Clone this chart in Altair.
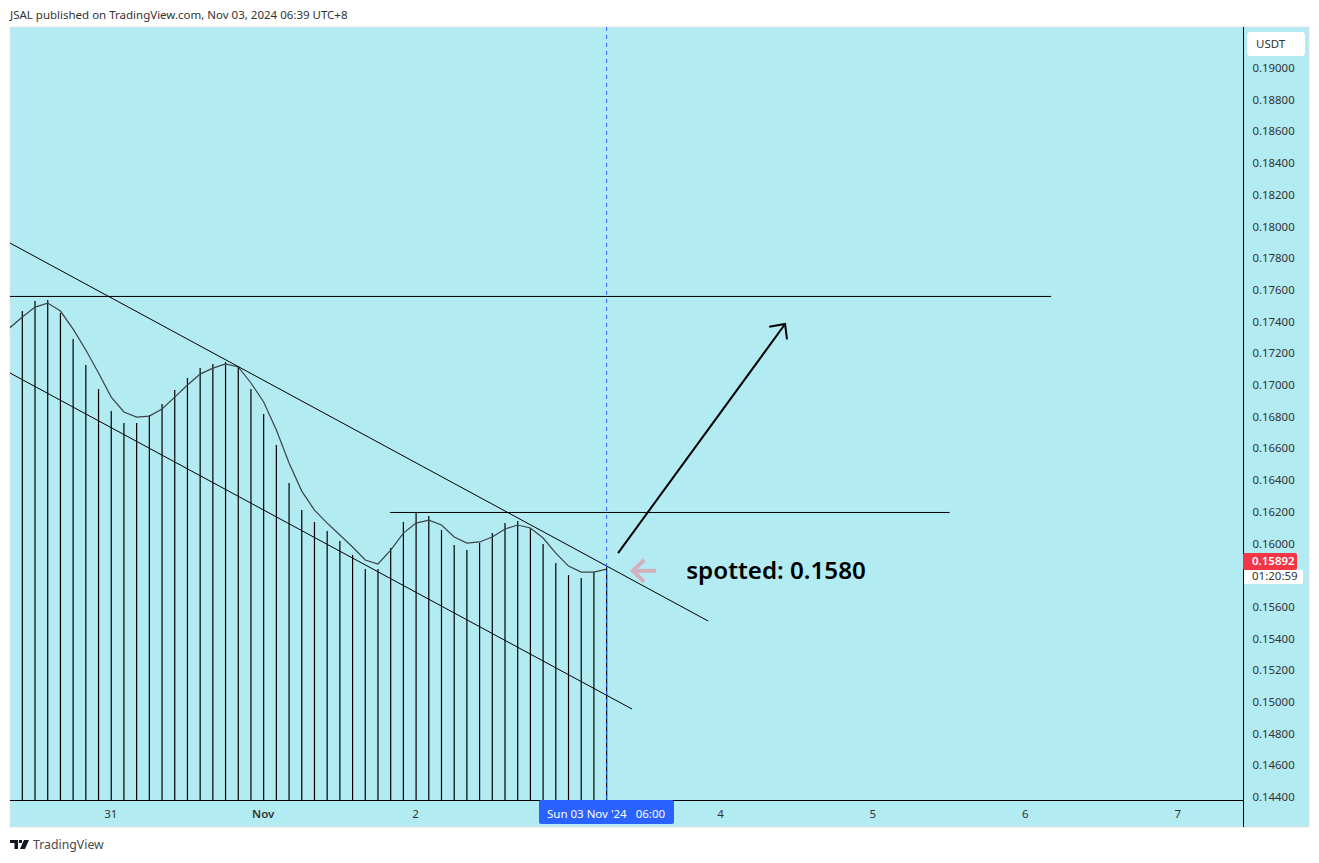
import altair as alt
import pandas as pd

# 2h bars, index 0 = first visible bar, 12 bars per day
highs = [0.17467, 0.17530, 0.17536, 0.17454, 0.17290, 0.17126, 0.16975, 0.16836, 0.16760, 0.16760,
         0.16811, 0.16880, 0.16969, 0.17044, 0.17107, 0.17133, 0.17145, 0.17120, 0.16975, 0.16817,
         0.16622, 0.16382, 0.16211, 0.16136, 0.16079, 0.16016, 0.15928, 0.15839, 0.15839, 0.15972,
         0.16136, 0.16199, 0.16174, 0.16085, 0.15991, 0.15959, 0.16003, 0.16066, 0.16129, 0.16142,
         0.16098, 0.15997, 0.15877, 0.15801, 0.15782, 0.15820, 0.15858]

# smooth line starts one bar earlier, at the left edge
smooth = [0.17360, 0.17429, 0.17492, 0.17517, 0.17467, 0.17353, 0.17221, 0.17076, 0.16924, 0.16830,
          0.16798, 0.16804, 0.16849, 0.16924, 0.17000, 0.17069, 0.17107, 0.17133, 0.17114, 0.17013,
          0.16893, 0.16716, 0.16508, 0.16331, 0.16211, 0.16129, 0.16054, 0.15978, 0.15896, 0.15871,
          0.15959, 0.16066, 0.16129, 0.16148, 0.16117, 0.16041, 0.16003, 0.16010, 0.16041, 0.16092,
          0.16117, 0.16098, 0.16035, 0.15940, 0.15858, 0.15820, 0.15820, 0.15839]

y_ticks = [0.190, 0.188, 0.186, 0.184, 0.182, 0.180, 0.178, 0.176, 0.174, 0.172, 0.170, 0.168,
           0.166, 0.164, 0.162, 0.160, 0.156, 0.154, 0.152, 0.150, 0.148, 0.146, 0.144]
x_ticks = [7, 19, 31, 55, 67, 79, 91]
x_tick_labels = ["31", "Nov", "2", "4", "5", "6", "7"]

# drawings: (idx, price) end points
upper_trend = ([-0.97, 54.0], [0.17896, 0.15511])
lower_trend = ([-0.97, 48.0], [0.17076, 0.14956])
level_top = ([-0.97, 81.0], [0.17559, 0.17559])
level_mid = ([28.95, 73.0], [0.16196, 0.16196])
arrow_shaft = ([46.9, 60.05], [0.15940, 0.17385])
arrow_head = ([58.8, 60.05, 60.2], [0.17368, 0.17385, 0.17288])
pink_shaft = ([48.06, 49.9], [0.15828, 0.15828])
pink_head = ([48.95, 48.06, 48.95], [0.15896, 0.15828, 0.15759])

last_bar = 46
note_x, note_y = 52.26, 0.15828

BG = "#b2ebf2"
BLUE = "#2962ff"
FONT = "Noto Sans"

x_enc = alt.X("idx:Q", title=None,
              scale=alt.Scale(domain=[-0.97, 96.1], nice=False, zero=False),
              axis=alt.Axis(values=x_ticks, domain=False, ticks=False, grid=False, zindex=1,
                            labelExpr="{" + ",".join(f"'{k}':'{v}'" for k, v in zip(x_ticks, x_tick_labels)) + "}[datum.value]",
                            labelFont=FONT, labelFontSize=11.5, labelColor="#333333", labelPadding=8,
                            labelOffset=-1,
                            labelFontWeight={"condition": {"test": "datum.value == 19", "value": 600}, "value": 400}))
y_enc = alt.Y("price:Q", title=None,
              scale=alt.Scale(domain=[0.14382, 0.19259], nice=False, zero=False),
              axis=alt.Axis(orient="right", values=y_ticks, format=".5f", domain=False, ticks=False,
                            grid=False, zindex=1, labelFont=FONT, labelFontSize=11.4,
                            labelColor="#333333", labelPadding=9, labelOffset=0.5))

one = pd.DataFrame({"a": [0]})


def seg(points, name):
    return pd.DataFrame({"idx": points[0], "price": points[1], "name": name})


def box(x0, y0, x1, y1, color, **kw):
    # page pixels -> plot pixels
    return alt.Chart(one).mark_rect(color=color, **kw).encode(
        x=alt.value(x0 - 10), x2=alt.value(x1 - 10), y=alt.value(y0 - 27), y2=alt.value(y1 - 27))


def label(s, x, y, size=11.5, color="#333333", align="left", **kw):
    return alt.Chart(one).mark_text(text=s, font=FONT, fontSize=size, color=color, align=align,
                                    baseline="middle", **kw).encode(
        x=alt.value(x - 10), y=alt.value(y - 27))


panel = box(10, 27, 1309, 827, BG, stroke="#e0e3eb", strokeWidth=1)

bars_df = pd.DataFrame({"idx": range(len(highs)), "price": highs})
bars = alt.Chart(bars_df).mark_rule(color="#000000", strokeWidth=1.2).encode(
    x=x_enc, y=y_enc, y2=alt.value(773))

line_df = pd.DataFrame({"idx": range(-1, len(smooth) - 1), "price": smooth})
line = alt.Chart(line_df).mark_line(color="#3a4446", strokeWidth=1.2, clip=True).encode(x=x_enc, y=y_enc)

thin_df = pd.concat([seg(upper_trend, "u"), seg(lower_trend, "l"), seg(level_top, "t"), seg(level_mid, "m")])
thin = alt.Chart(thin_df).mark_line(color="#000000", strokeWidth=1, clip=True).encode(
    x=x_enc, y=y_enc, detail="name:N")

arrow_df = pd.concat([seg(arrow_shaft, "s"), seg(arrow_head, "h")])
arrow = alt.Chart(arrow_df).mark_line(color="#000000", strokeWidth=2).encode(
    x=x_enc, y=y_enc, detail="name:N", order="rn:Q").transform_window(rn="row_number()", groupby=["name"])

pink_df = pd.concat([seg(pink_shaft, "s"), seg(pink_head, "h")])
pink = alt.Chart(pink_df).mark_line(color="#d4b0bc", strokeWidth=4).encode(
    x=x_enc, y=y_enc, detail="name:N", order="rn:Q").transform_window(rn="row_number()", groupby=["name"])

cross = alt.Chart(pd.DataFrame({"idx": [last_bar]})).mark_rule(
    color=BLUE, strokeWidth=1, strokeDash=[4, 4]).encode(x=x_enc)

note = alt.Chart(pd.DataFrame({"idx": [note_x], "price": [note_y]})).mark_text(
    text="spotted: 0.1580", font=FONT, fontSize=24.2, fontWeight=600, color="#000000",
    align="left", baseline="middle", dy=1.5).encode(x=x_enc, y=y_enc)

x_line = alt.Chart(one).mark_rule(color="#000000", strokeWidth=1).encode(
    x=alt.value(0), x2=alt.value(1233), y=alt.value(773.5))
y_line = alt.Chart(one).mark_rule(color="#000000", strokeWidth=1).encode(
    x=alt.value(1233.5), y=alt.value(0), y2=alt.value(800))

time_box = box(539, 800, 674, 824, BLUE, cornerRadius=2)
time_text = label("Sun 03 Nov '24\u00a0\u00a0\u00a006:00", 606, 815, size=11.5, color="#ffffff", align="center")

usdt_box = box(1247, 32, 1305, 56, "#ffffff", cornerRadius=3)
usdt_text = label("USDT", 1256, 44.5)

count_box = box(1244, 570, 1303, 584, "#ffffff")
count_text = label("01:20:59", 1252, 577)
price_box = box(1243, 553, 1297, 570, "#f23645", cornerRadius=2)
price_text = label("0.15892", 1252, 562, color="#ffffff", fontWeight=600)

header = label("JSAL published on TradingView.com, Nov 03, 2024 06:39 UTC+8", 10, 15.5, size=11.5, color="#333333")
footer = label("TradingView", 33, 845, size=12.3, color="#4a4a4a")
logo = alt.Chart(one).mark_point(
    shape="M-1,-.47 L-.16,-.47 L-.16,.47 L-.53,.47 L-.53,-.16 L-1,-.16 Z "
          "M-.06,-.47 L.26,-.47 L.26,-.16 L-.06,-.16 Z "
          "M.47,-.47 L1,-.47 L.58,.47 L.05,.47 Z",
    size=361, filled=True, fill="#131722", strokeWidth=0, opacity=1,
).encode(x=alt.value(19.5 - 10), y=alt.value(844.5 - 27))

chart = alt.layer(
    panel, bars, line, thin, arrow, pink, cross, note, x_line, y_line,
    time_box, time_text, usdt_box, usdt_text, count_box, count_text, price_box, price_text,
    header, footer, logo,
).properties(
    width=1233, height=773,
    autosize=alt.AutoSizeParams(type="none"),
    padding={"left": 2, "top": 19, "right": 68, "bottom": 55},
    background="#ffffff",
).configure_view(stroke=None)

chart.save("out.html", embed_options={"renderer": "svg", "actions": False})
